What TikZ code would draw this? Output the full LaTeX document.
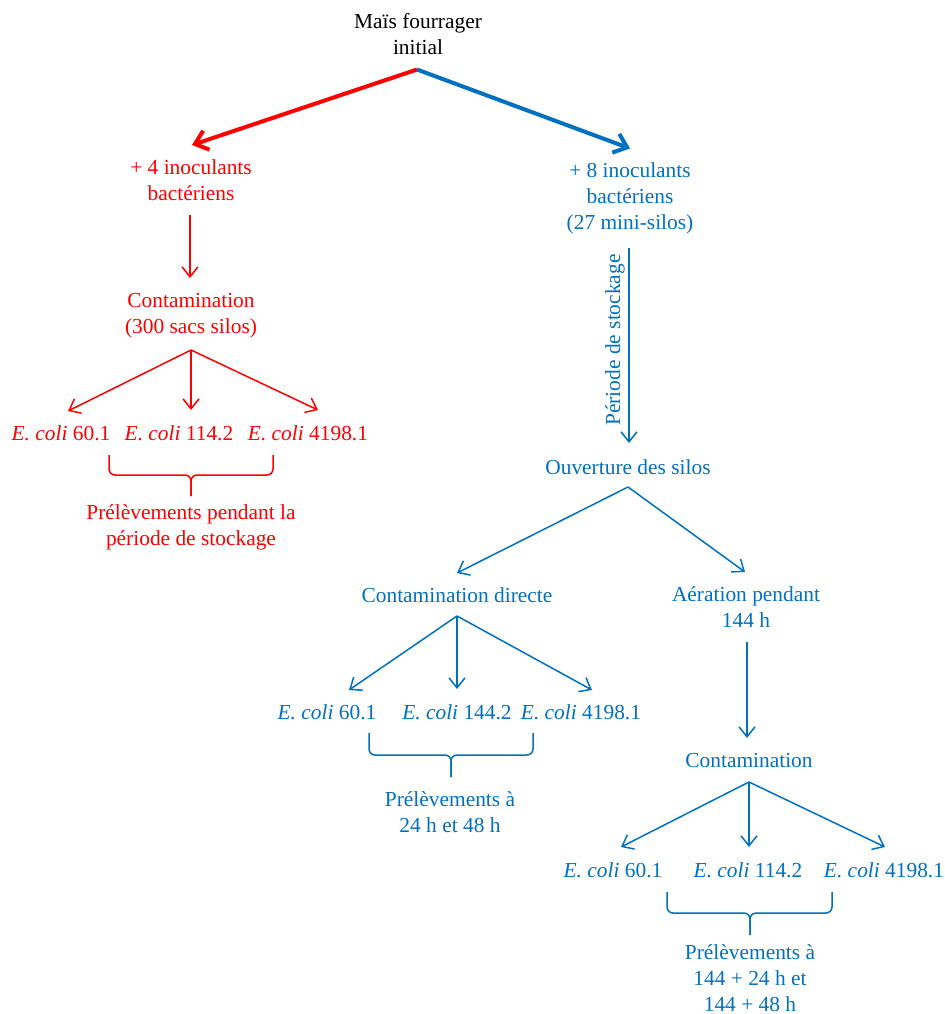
\documentclass[tikz,border=0pt]{standalone}
\usepackage{fontspec}
\setmainfont{Liberation Serif}
\usetikzlibrary{arrows.meta,calc}
\definecolor{myred}{RGB}{255,0,0}
\definecolor{myblue}{RGB}{0,112,192}
\begin{document}
\begin{tikzpicture}[x=0.5pt,y=-0.5pt,
  txt/.style={align=center,inner sep=0pt,font=\fontsize{10.7}{13}\selectfont},
  redtxt/.style={txt,text=myred},
  bluetxt/.style={txt,text=myblue},
  thinarrow/.style={line width=0.75pt,-{Straight Barb[length=5pt,width=8pt]}},
  thickarrow/.style={line width=2pt,-{Straight Barb[length=6pt,width=10pt]}},
  bracestyle/.style={line width=0.75pt,rounded corners=3pt},
]
\useasboundingbox (0,0) rectangle (945,1014);

% top
\node[txt] (T) at (418,34.5) {Maïs fourrager\\initial};

% red branch
\node[redtxt] (R1) at (191,180.5) {+ 4 inoculants\\bactériens};
\node[redtxt] (R2) at (191,316) {Contamination\\(300 sacs silos)};
\node[redtxt] (E1) at (61,433) {\textit{E. coli} 60.1};
\node[redtxt] (E2) at (179,433) {\textit{E. coli} 114.2};
\node[redtxt] (E3) at (308,433) {\textit{E. coli} 4198.1};
\node[redtxt] (RL) at (191,527.5) {Prélèvements pendant la\\période de stockage};

% blue branch
\node[bluetxt] (B1) at (630,198.5) {+ 8 inoculants\\bactériens\\(27 mini-silos)};
\node[bluetxt,rotate=90] (stock) at (615,340) {Période de stockage};
\node[bluetxt] (O) at (628,467) {Ouverture des silos};
\node[bluetxt] (CD) at (457,595) {Contamination directe};
\node[bluetxt] (AP) at (746,607.5) {Aération pendant\\144 h};
\node[bluetxt] (E4) at (327,712) {\textit{E. coli} 60.1};
\node[bluetxt] (E5) at (457,712) {\textit{E. coli} 144.2};
\node[bluetxt] (E6) at (581,712) {\textit{E. coli} 4198.1};
\node[bluetxt] (BL1) at (450,812.5) {Prélèvements à\\24 h et 48 h};
\node[bluetxt] (C2) at (749,761) {Contamination};
\node[bluetxt] (E7) at (613,870) {\textit{E. coli} 60.1};
\node[bluetxt] (E8) at (748,870) {\textit{E. coli} 114.2};
\node[bluetxt] (E9) at (884,870) {\textit{E. coli} 4198.1};
\node[bluetxt] (BL2) at (750,978) {Prélèvements à\\144 + 24 h et\\144 + 48 h};

% thick top arrows
\draw[thickarrow,myred] ($(T)+(-1,35)$) -- ($(R1)+(1,-35.5)$);
\draw[thickarrow,myblue] ($(T)+(-1,35)$) -- ($(B1)+(0,-50)$);

% red arrows
\draw[thinarrow,myred] ($(R1)+(-1,34.5)$) -- ($(R2)+(-1,-38)$);
\draw[thinarrow,myred] ($(R2)+(0,34)$) -- ($(E1)+(7,-22)$);
\draw[thinarrow,myred] ($(R2)+(0,34)$) -- ($(E2)+(12,-23)$);
\draw[thinarrow,myred] ($(R2)+(0,34)$) -- ($(E3)+(10,-23)$);
\draw[bracestyle,myred] (109,455) -- (109,475) -- (191,475) -- (191,496);
\draw[bracestyle,myred] (273,455) -- (273,475) -- (191,475) -- (191,496);

% blue arrows
\draw[thinarrow,myblue] ($(B1)+(-1,49.5)$) -- ($(O)+(1,-24)$);
\draw[thinarrow,myblue] ($(O)+(0,20)$) -- ($(CD)+(0,-22)$);
\draw[thinarrow,myblue] ($(O)+(0,20)$) -- ($(AP)+(-1,-35.5)$);
\draw[thinarrow,myblue] ($(CD)+(0,21)$) -- ($(E4)+(22,-22)$);
\draw[thinarrow,myblue] ($(CD)+(0,21)$) -- ($(E5)+(0,-23)$);
\draw[thinarrow,myblue] ($(CD)+(0,21)$) -- ($(E6)+(11,-22)$);
\draw[bracestyle,myblue] (369,733) -- (369,755) -- (451,755) -- (451,777);
\draw[bracestyle,myblue] (533,733) -- (533,755) -- (451,755) -- (451,777);
\draw[thinarrow,myblue] ($(AP)+(1,34.5)$) -- ($(C2)+(-2,-23)$);
\draw[thinarrow,myblue] ($(C2)+(0,21)$) -- ($(E7)+(8,-23)$);
\draw[thinarrow,myblue] ($(C2)+(0,21)$) -- ($(E8)+(1,-23)$);
\draw[thinarrow,myblue] ($(C2)+(0,21)$) -- ($(E9)+(1,-23)$);
\draw[bracestyle,myblue] (667,892) -- (667,913) -- (750,913) -- (750,935);
\draw[bracestyle,myblue] (832,892) -- (832,913) -- (750,913) -- (750,935);
\end{tikzpicture}
\end{document}
